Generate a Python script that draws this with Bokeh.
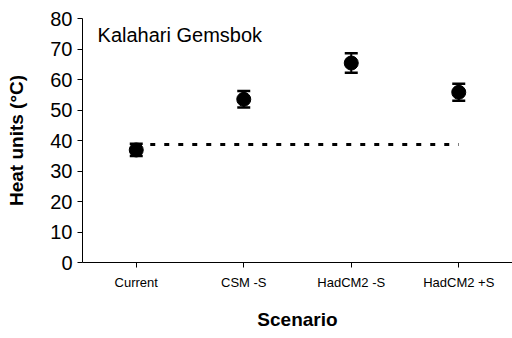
from bokeh.plotting import figure
from bokeh.models import ColumnDataSource, Whisker, TeeHead, Label, Range1d, FactorRange
from bokeh.embed import file_html
from bokeh.resources import INLINE

scenarios = ["Current", "CSM -S", "HadCM2 -S", "HadCM2 +S"]
means = [36.9, 53.5, 65.4, 55.8]
errors = [2.0, 2.7, 3.2, 2.8]
baseline = 38.7
y_ticks = [0, 10, 20, 30, 40, 50, 60, 70, 80]

lower = [m - e for m, e in zip(means, errors)]
upper = [m + e for m, e in zip(means, errors)]
src = ColumnDataSource(dict(x=scenarios, y=means, lower=lower, upper=upper))

p = figure(width=512, height=338, x_range=FactorRange(*scenarios, range_padding=0),
           y_range=Range1d(0, 80), output_backend="svg", toolbar_location=None,
           min_border_left=82, min_border_right=0, min_border_top=18, min_border_bottom=76)
p.outline_line_color = None
p.xgrid.visible = False
p.ygrid.visible = False
p.background_fill_color = "white"

p.line(x=["Current", "HadCM2 +S"], y=[baseline, baseline], line_color="black",
       line_width=3, line_dash="5 9")

w = Whisker(source=src, base="x", lower="lower", upper="upper", line_color="black", line_width=2,
            upper_head=TeeHead(size=13, line_width=2.5, line_color="black"),
            lower_head=TeeHead(size=13, line_width=2.5, line_color="black"))
p.add_layout(w)
p.scatter(x="x", y="y", source=src, size=14, color="black")

p.yaxis.ticker = y_ticks
p.yaxis.axis_label = "Heat units (°C)"
p.xaxis.axis_label = "Scenario"
for ax in (p.xaxis, p.yaxis):
    ax.axis_label_text_font = "Liberation Sans"
    ax.axis_label_text_font_style = "bold"
    ax.axis_label_text_font_size = "19px"
    ax.major_label_text_font = "Liberation Sans"
    ax.major_label_text_font_style = "normal"
    ax.axis_line_color = "black"
    ax.major_tick_line_color = "black"
    ax.minor_tick_line_color = None
    ax.major_tick_in = 0
    ax.major_tick_out = 5
    ax.major_label_text_color = "black"
    ax.axis_label_text_color = "black"
p.yaxis.major_label_text_font_size = "20px"
p.xaxis.major_label_text_font_size = "13px"
p.xaxis.major_label_standoff = 7
p.xaxis.axis_label_standoff = 16
p.yaxis.major_label_standoff = 5
p.yaxis.axis_label_standoff = 20

p.add_layout(Label(x=0.14, y=74.5, text="Kalahari Gemsbok", text_baseline="middle",
                   text_font="Liberation Sans", text_font_size="20px", text_color="black"))

open("out.html", "w").write(file_html(p, INLINE))
